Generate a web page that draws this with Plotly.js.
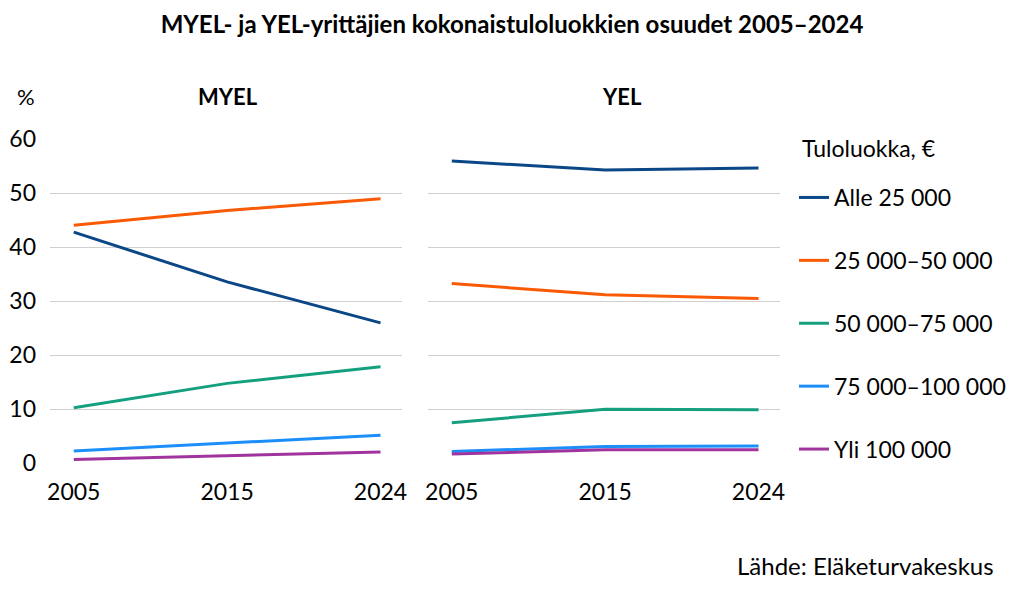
<!DOCTYPE html>
<html>
<head>
<meta charset="utf-8">
<script src="https://cdn.plot.ly/plotly-3.0.1.min.js"></script>
<style>html,body{margin:0;padding:0;background:#fff;}#chart{width:1024px;height:590px;}</style>
</head>
<body>
<div id="chart"></div>
<script>
const years = ['2005', '2015', '2024'];
const classes = ['Alle 25 000', '25 000–50 000', '50 000–75 000', '75 000–100 000', 'Yli 100 000'];
const colors = ['#0B4786', '#FA5A05', '#14A07F', '#1C8EFA', '#A0349E'];

const myelAlle25 = [42.8, 33.6, 26.0];
const myel25to50 = [44.1, 46.8, 49.0];
const myel50to75 = [10.3, 14.8, 17.9];
const myel75to100 = [2.3, 3.7, 5.2];
const myelYli100 = [0.7, 1.4, 2.1];

const yelAlle25 = [56.0, 54.3, 54.7];
const yel25to50 = [33.3, 31.2, 30.5];
const yel50to75 = [7.5, 10.0, 9.9];
const yel75to100 = [2.2, 3.1, 3.2];
const yelYli100 = [1.7, 2.5, 2.5];

const myelSeries = [myelAlle25, myel25to50, myel50to75, myel75to100, myelYli100];
const yelSeries = [yelAlle25, yel25to50, yel50to75, yel75to100, yelYli100];

const FONT = 'Lato, "Open Sans", sans-serif';
const traces = [];
classes.forEach((name, i) => {
  traces.push({
    x: years, y: myelSeries[i], xaxis: 'x', yaxis: 'y', type: 'scatter', mode: 'lines',
    name: name, legendgroup: 'g' + i, showlegend: true,
    line: {color: colors[i], width: 3}
  });
  traces.push({
    x: years, y: yelSeries[i], xaxis: 'x2', yaxis: 'y2', type: 'scatter', mode: 'lines',
    name: name, legendgroup: 'g' + i, showlegend: false,
    line: {color: colors[i], width: 3}
  });
});

const yDomain = [1 - 463.3 / 590, 1 - 139.3 / 590];
const xCommon = {
  type: 'category', range: [-0.155, 2.14], showgrid: false, zeroline: false,
  showline: false, ticks: '', tickfont: {family: FONT, size: 23, color: '#000'},
  ticklabelstandoff: 13, fixedrange: true
};
const yCommon = {
  range: [0, 60], dtick: 10, showgrid: true, gridcolor: '#D0D0D0', gridwidth: 1.3,
  zeroline: false, showline: false, ticks: '', fixedrange: true,
  tickfont: {family: FONT, size: 23, color: '#000'}, domain: yDomain
};

const layout = {
  width: 1024, height: 590,
  margin: {l: 0, r: 0, t: 0, b: 0},
  paper_bgcolor: '#fff', plot_bgcolor: '#fff',
  showlegend: true,
  title: {text: '<b>MYEL- ja YEL-yrittäjien kokonaistuloluokkien osuudet 2005–2024</b>',
    font: {family: FONT, size: 24, color: '#000'}, x: 0.5, xanchor: 'center', y: 1 - 25 / 590, yanchor: 'middle'},
  xaxis: Object.assign({}, xCommon, {domain: [50 / 1024, 402 / 1024], anchor: 'y'}),
  xaxis2: Object.assign({}, xCommon, {domain: [428 / 1024, 780 / 1024], anchor: 'y2'}),
  yaxis: Object.assign({}, yCommon, {anchor: 'x', showticklabels: true, ticklabelstandoff: 13}),
  yaxis2: Object.assign({}, yCommon, {anchor: 'x2', showticklabels: false}),
  legend: {
    x: 794 / 1024, xanchor: 'left', y: 1 - 176 / 590, yanchor: 'top',
    font: {family: FONT, size: 23, color: '#000'},
    traceorder: 'grouped', tracegroupgap: 30, itemwidth: 30, bgcolor: 'rgba(0,0,0,0)'
  },
  annotations: [
    {text: '%', xref: 'paper', yref: 'paper', x: 26 / 1024, y: 1 - 97 / 590, xanchor: 'center', yanchor: 'middle', showarrow: false, font: {family: FONT, size: 22, color: '#000'}},
    {text: '<b>MYEL</b>', xref: 'paper', yref: 'paper', x: 228 / 1024, y: 1 - 97 / 590, xanchor: 'center', yanchor: 'middle', showarrow: false, font: {family: FONT, size: 22, color: '#000'}},
    {text: '<b>YEL</b>', xref: 'paper', yref: 'paper', x: 622 / 1024, y: 1 - 97 / 590, xanchor: 'center', yanchor: 'middle', showarrow: false, font: {family: FONT, size: 22, color: '#000'}},
    {text: 'Tuloluokka, €', xref: 'paper', yref: 'paper', x: 800 / 1024, y: 1 - 148 / 590, xanchor: 'left', yanchor: 'middle', showarrow: false, font: {family: FONT, size: 23, color: '#000'}},
    {text: 'Lähde: Eläketurvakeskus', xref: 'paper', yref: 'paper', x: 996 / 1024, y: 1 - 565 / 590, xanchor: 'right', yanchor: 'middle', showarrow: false, font: {family: FONT, size: 24, color: '#000'}}
  ]
};

Plotly.newPlot('chart', traces, layout, {displayModeBar: false, staticPlot: true});
</script>
</body>
</html>
